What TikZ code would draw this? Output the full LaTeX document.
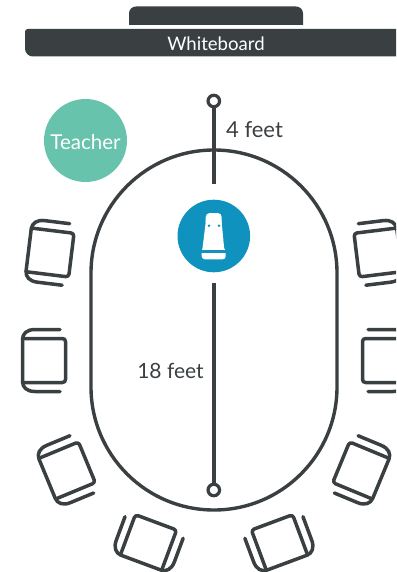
\documentclass[tikz,border=0pt]{standalone}
\usepackage{fontspec}
\setmainfont{Lato}
\definecolor{ink}{HTML}{3A3F42}
\definecolor{tealc}{HTML}{68C3AC}
\definecolor{bluec}{HTML}{0F93BE}
\tikzset{
  lineink/.style={draw=ink,line width=3.4pt},
  ringend/.style={circle,draw=ink,fill=white,line width=3.2pt,minimum size=11.5pt,inner sep=0pt},
  label/.style={text=ink,font=\fontsize{21}{24}\selectfont,inner sep=0pt},
  chairpart/.style={draw=ink,line width=3.5pt,line cap=round,line join=round},
}
\newcommand{\chairat}[3]{%
  \begin{scope}[shift={(#1,#2)},rotate=#3]
    \draw[chairpart,rounded corners=3pt] (-21.5,-22) -- (21.5,-22) -- (21.5,22) -- (-21.5,22);
    \draw[chairpart] (16,-31) -- (-9,-31) .. controls (-17,-31) and (-21.5,-27) .. (-21.5,-21) -- (-21.5,21) .. controls (-21.5,27) and (-17,31) .. (-9,31) -- (16,31);
  \end{scope}}
\begin{document}
\begin{tikzpicture}[x=1pt,y=-1pt]
\useasboundingbox (0,0) rectangle (396,572);
\clip (0,0) rectangle (396,572);
% whiteboard
\fill[ink] (129,25) -- (129,13.5) .. controls (129,9.5) and (132,6.5) .. (136,6.5) -- (296,6.5) .. controls (300,6.5) and (303,9.5) .. (303,13.5) -- (303,25) -- cycle;
\fill[ink] (25,32) .. controls (25,30) and (26,29) .. (28,29) -- (420,29) -- (420,56.5) -- (33,56.5) .. controls (28.5,56.5) and (25,53) .. (25,48.5) -- cycle;
\node[text=white,font=\fontsize{18.6}{20}\selectfont,inner sep=0pt] (wb) at (216,43.5) {Whiteboard};
% teacher
\node[circle,fill=tealc,minimum size=83pt,inner sep=0pt] (teacher) at (85.5,140.5) {};
\node[text=white,font=\fontsize{20.5}{24}\selectfont,inner sep=0pt] (teachertext) at (85.5,142.5) {Teacher};
% table
\draw[lineink,rounded corners=123pt] (91,150) rectangle (337,510);
% speaker
\node[circle,fill=bluec,minimum size=72.6pt,inner sep=0pt] (speaker) at (213.8,236) {};
\fill[white,rounded corners=4pt] (205.7,226) -- (205.7,213) -- (221.7,213) -- (221.7,226) -- cycle;
\fill[white] (205.9,220.5) -- (221.5,220.5) -- (224.3,250) -- (202.3,250) -- cycle;
\fill[white,rounded corners=3pt] (201.7,248) -- (225.7,248) -- (225.7,259.3) -- (201.7,259.3) -- cycle;
\fill[bluec] (200,250) rectangle (228,253.3);
\fill[bluec] (209,225.7) circle[radius=1.4] (219,225.7) circle[radius=1.4];
% dimension lines
\node[ringend] (topend) at (213.8,101) {};
\node[ringend] (botend) at (213.8,490) {};
\coordinate (upperstop) at (213.8,184);
\coordinate (lowerstart) at (213.8,283);
\draw[lineink] (topend) -- (upperstop);
\draw[lineink] (lowerstart) -- (botend);
\node[label,font=\fontsize{22}{24}\selectfont] (four) at (254.5,129.5) {4 feet};
\node[label] (eighteen) at (170.5,371) {18 feet};
% chairs
\chairat{50}{252.5}{-7}
\chairat{44}{360.5}{0}
\chairat{67}{470.5}{22.5}
\chairat{148.5}{542.5}{69.6}
\chairat{378}{252.5}{187}
\chairat{384}{360.5}{180}
\chairat{361}{470.5}{157.5}
\chairat{279.5}{542.5}{110.4}
\end{tikzpicture}
\end{document}
